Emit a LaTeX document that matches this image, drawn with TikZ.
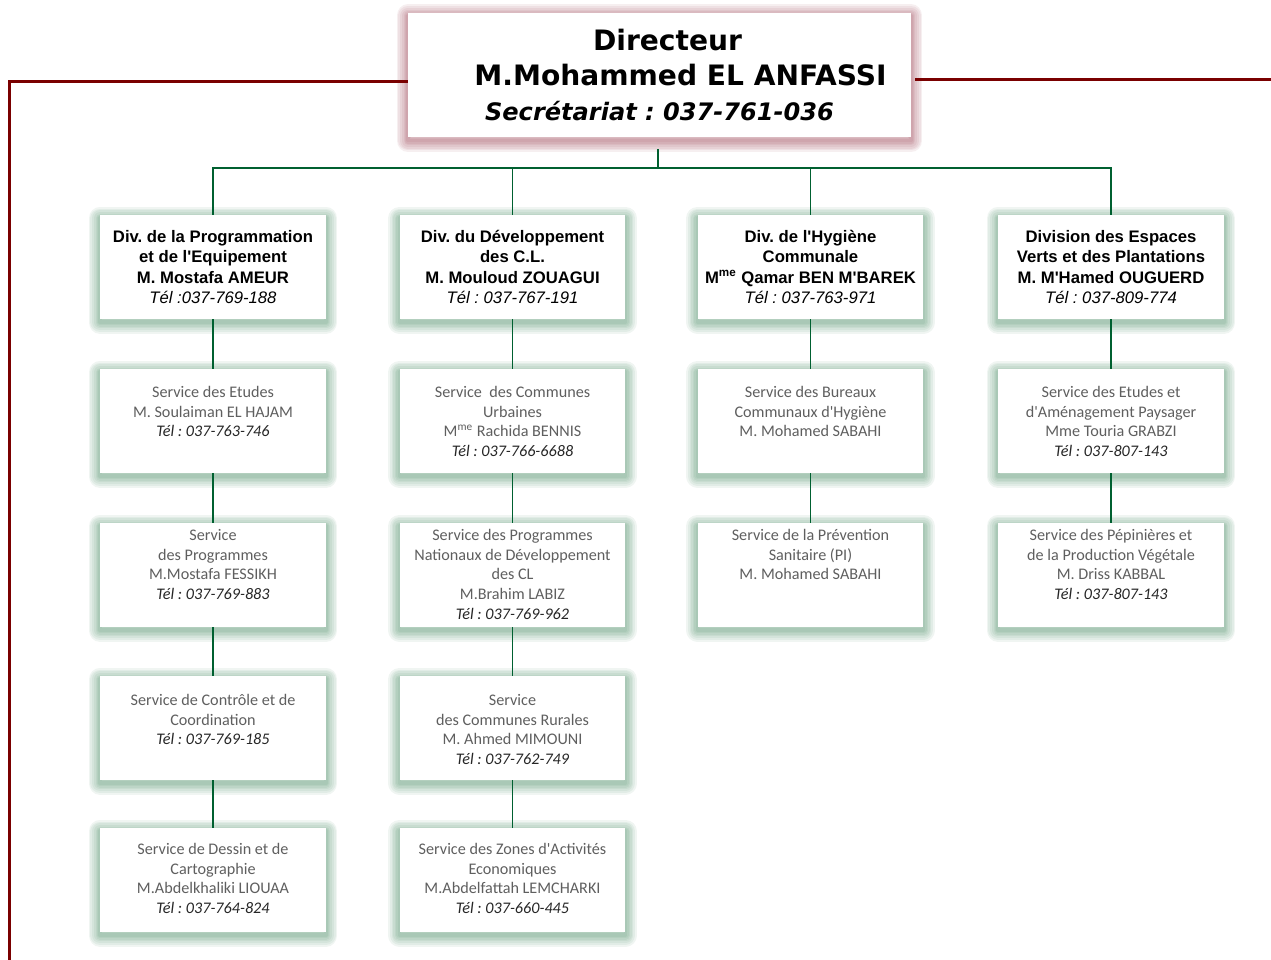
\documentclass[tikz,border=0pt]{standalone}
\usepackage{fontspec}
\setmainfont{Liberation Sans}[Ligatures=TeXOff]
\newfontfamily\dirfont{DejaVu Sans}[Ligatures=TeXOff]
\newfontfamily\svcfont{Carlito}[Ligatures=TeXOff]
\usetikzlibrary{shadows}
\frenchspacing

\definecolor{lignevert}{RGB}{0,96,48}
\definecolor{lignerouge}{RGB}{122,0,0}
\definecolor{ombreverte}{RGB}{50,125,80}
\definecolor{ombrerouge}{RGB}{140,40,60}
\definecolor{textegris}{RGB}{95,95,95}

\newcommand\teldiv[1]{{\mdseries\itshape #1}}
\newcommand\telsvc[1]{{\itshape\color{black!85}#1}}

\tikzset{
  couche/.style 2 args={general shadow={draw=#1, draw opacity=.075,
    line width=#2, line join=round, shadow yshift=-1.8pt}},
  lueur/.style={couche={#1}{13pt}, couche={#1}{11pt}, couche={#1}{9pt},
    couche={#1}{7pt}, couche={#1}{5pt}, couche={#1}{3.5pt},
    couche={#1}{2pt}},
  boite/.style={fill=white, draw=none, inner sep=0pt,
    minimum width=4.52cm, minimum height=2.08cm, lueur=ombreverte},
  division/.style={boite, align=center,
    font=\fontsize{9.5}{11.6}\selectfont\bfseries},
  servtexte/.style={anchor=north, align=center, inner sep=0pt,
    font=\svcfont\fontsize{9.2}{11.3}\selectfont, text=textegris},
  directeur/.style={fill=white, draw=none, inner sep=0pt,
    minimum width=10.06cm, minimum height=2.5cm, align=center,
    font=\dirfont\bfseries\fontsize{16}{19.8}\selectfont,
    lueur=ombrerouge},
  lien/.style={lignevert, line width=1.1pt},
  cadre/.style={lignerouge, line width=1.7pt, line join=miter},
}

\begin{document}
\begin{tikzpicture}[x=0.02cm, y=-0.02cm]
  \useasboundingbox (0,0) rectangle (1271,960);

  % Directeur
  \node[directeur] (dir) at (659.5,75) {\hspace*{3.2mm}Directeur\\
    \hspace*{8.4mm}M.Mohammed EL ANFASSI\\
    {\itshape\fontsize{13.7}{19.8}\selectfont Secr\'etariat : 037-761-036}};

  % cadre rouge
  \coordinate (rgbas) at (9.5,962);
  \coordinate (rghaut) at (9.5,81.5);
  \coordinate (rdroit) at (1272,79.5);
  \draw[cadre] (rgbas) -- (rghaut) -- (rghaut -| dir.west);
  \draw[cadre] ([xshift=0.08cm]dir.east |- rdroit) -- (rdroit);

  % divisions
  \foreach \x\n\t in {
      213/d1/{Div. de la Programmation\\et de l'Equipement\\M. Mostafa AMEUR\\\teldiv{Tél :037-769-188}},
      512.5/d2/{Div. du Développement\\des C.L.\\M. Mouloud ZOUAGUI\\\teldiv{Tél : 037-767-191}},
      810.5/d3/{Div. de l'Hygiène\\Communale\\M\textsuperscript{me} Qamar BEN M'BAREK\\\teldiv{Tél : 037-763-971}},
      1111/d4/{Division des Espaces\\Verts et des Plantations\\M. M'Hamed OUGUERD\\\teldiv{Tél : 037-809-774}}}{
    \node[division] (\n) at (\x,267) {\t};
  }

  % services
  \foreach \x\y\h\n\t in {
      213/421/383/s11/{Service des Etudes\\M. Soulaiman EL HAJAM\\\telsvc{Tél : 037-763-746}},
      213/575/526/s12/{Service\\des Programmes\\M.Mostafa FESSIKH\\\telsvc{Tél : 037-769-883}},
      213/728/691/s13/{Service de Contrôle et de\\Coordination\\\telsvc{Tél : 037-769-185}},
      213/880/840/s14/{Service de Dessin et de\\Cartographie\\M.Abdelkhaliki LIOUAA\\\telsvc{Tél : 037-764-824}},
      512.5/421/383/s21/{Service~ des Communes\\Urbaines\\M\textsuperscript{me} Rachida BENNIS\\\telsvc{Tél : 037-766-6688}},
      512.5/575/526/s22/{Service des Programmes\\Nationaux de Développement\\des CL\\M.Brahim LABIZ\\\telsvc{Tél : 037-769-962}},
      512.5/728/691/s23/{Service\\des Communes Rurales\\M. Ahmed MIMOUNI\\\telsvc{Tél : 037-762-749}},
      512.5/880/840/s24/{Service des Zones d'Activités\\Economiques\\M.Abdelfattah LEMCHARKI\\\telsvc{Tél : 037-660-445}},
      810.5/421/383/s31/{Service des Bureaux\\Communaux d'Hygiène\\M. Mohamed SABAHI},
      810.5/575/526/s32/{Service de la Prévention\\Sanitaire (PI)\\M. Mohamed SABAHI},
      1111/421/383/s41/{Service des Etudes et\\d'Aménagement Paysager\\Mme Touria GRABZI\\\telsvc{Tél : 037-807-143}},
      1111/575/526/s42/{Service des Pépinières et\\de la Production Végétale\\M. Driss KABBAL\\\telsvc{Tél : 037-807-143}}}{
    \node[boite] (\n) at (\x,\y) {};
    \node[servtexte] (\n t) at (\x,\h) {\strut\t};
  }

  % liaisons
  \coordinate (dirbas) at (658,149);
  \coordinate (bus) at (658,168);
  \draw[lien] (dirbas) -- (bus);
  \draw[lien] (d1.north) |- (bus) -| (d4.north);
  \draw[lien] (bus -| d2.north) -- (d2.north);
  \draw[lien] (bus -| d3.north) -- (d3.north);
  \foreach \a\b in {d1/s11, s11/s12, s12/s13, s13/s14,
      d2/s21, s21/s22, s22/s23, s23/s24,
      d3/s31, s31/s32, d4/s41, s41/s42}{
    \draw[lien] (\a.south) -- (\b.north);
  }
\end{tikzpicture}
\end{document}
